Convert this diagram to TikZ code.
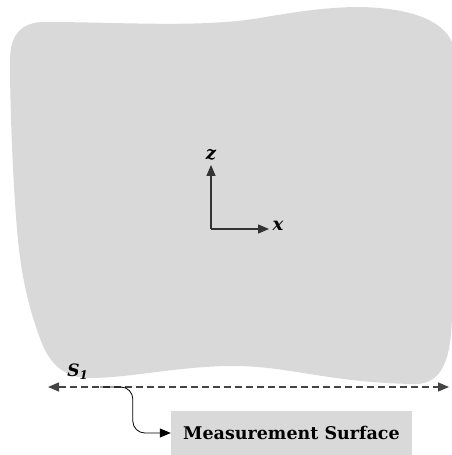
\documentclass[tikz,border=0pt]{standalone}
\usepackage{fontspec}
\setmainfont{DejaVu Serif}
\usepackage{xcolor}
\usepackage{tikz}
\usetikzlibrary{arrows.meta}

\definecolor{blobgray}{HTML}{D9D9D9}
\definecolor{axisgray}{HTML}{333333}
\definecolor{dashgray}{HTML}{444444}

\begin{document}
\begin{tikzpicture}[x=1pt,y=-1pt,
  tip/.style={Triangle[length=11pt,width=9pt]},
  arr/.style={-{Triangle[length=11pt,width=9pt]},line width=1.3pt,axisgray},
  lbl/.style={font=\fontsize{18}{20}\selectfont\bfseries\itshape}]
  \useasboundingbox (0,0) rectangle (452,455);
  %% domain
  \fill[blobgray] (10,60) .. controls (10,32) and (24,22) .. (45,22)
    .. controls (120,22) and (200,28) .. (260,18)
    .. controls (300,11) and (330,7) .. (360,7)
    .. controls (410,8) and (442,20) .. (452,42)
    -- (452,310) .. controls (452,360) and (442,384) .. (415,384)
    .. controls (330,383) and (290,366) .. (233,366)
    .. controls (180,366) and (130,378) .. (90,378)
    .. controls (66,378) and (52,366) .. (43,346)
    .. controls (31,316) and (22,282) .. (18,240)
    .. controls (14,200) and (10,120) .. (10,60) -- cycle;
  %% axes
  \coordinate (o) at (211,229);
  \node[lbl] (zl) at (211,155) {z};
  \node[lbl,anchor=west] (xl) at (269,226) {x};
  \draw[arr] (o) -- ([yshift=-1pt]zl.south);
  \draw[arr] (o) -- (o -| xl.west);
  %% measurement line S1
  \coordinate (sl) at (48,387);
  \coordinate (sr) at (449,387);
  \draw[{Triangle[length=11pt,width=9pt]}-{Triangle[length=11pt,width=9pt]},
    dashgray,line width=1.4pt,dash pattern=on 7pt off 4pt] (sl) -- (sr);
  \node[lbl,font=\fontsize{17}{19}\selectfont\bfseries\itshape] (s1) at (78,372) {S\textsubscript{1}};
  \coordinate (s1end) at (100,387);
  % label box
  \node[fill=blobgray,minimum width=241pt,minimum height=44pt,inner sep=0pt,
    font=\fontsize{17.5}{20}\selectfont\bfseries] (ms) at (291.5,433) {Measurement Surface};
  \draw[-{Triangle[length=11pt,width=9pt]},line width=0.8pt,rounded corners=12pt]
    (s1end) -| ([xshift=-38pt]ms.west) -- (ms.west);
\end{tikzpicture}
\end{document}
